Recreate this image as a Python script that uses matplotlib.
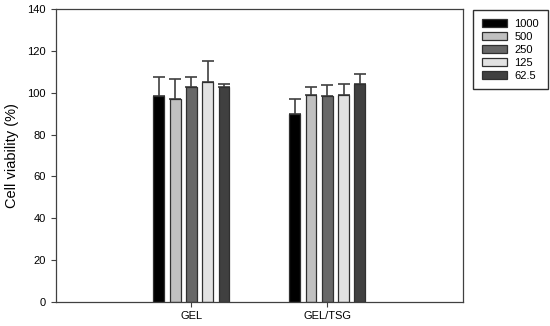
import numpy as np
import matplotlib.pyplot as plt

plt.rcParams['font.family'] = ['Liberation Sans', 'DejaVu Sans']

# data
groups = ['GEL', 'GEL/TSG']
concentrations = ['1000', '500', '250', '125', '62.5']
means = [
    [98.6, 90.0],    # 1000
    [96.8, 99.1],    # 500
    [102.9, 98.3],   # 250
    [105.1, 98.8],   # 125
    [102.9, 104.0],  # 62.5
]
errors = [
    [9.0, 7.0],
    [9.6, 3.8],
    [4.6, 5.2],
    [10.0, 5.2],
    [1.3, 5.0],
]
colors = ['#000000', '#c0c0c0', '#686868', '#e2e2e2', '#404040']

fig = plt.figure(figsize=(5.5, 3.26), dpi=100)
ax = fig.add_axes([0.101, 0.0745, 0.741, 0.8975])

x = np.arange(len(groups))
width = 0.08
step = 0.12
for i, lab in enumerate(concentrations):
    pos = x + (i - 2) * step
    ax.bar(pos, means[i], width, color=colors[i], edgecolor='#303030',
           linewidth=0.9, label=lab, zorder=2)
    ax.errorbar(pos, means[i], yerr=[np.zeros(len(groups)), errors[i]],
                fmt='none', ecolor='#404040', elinewidth=1.2, capsize=4,
                capthick=1.2, zorder=1)

ax.set_xlim(-1, 2)
ax.set_ylim(0, 140)
ax.set_yticks(range(0, 141, 20))
ax.set_xticks(x)
ax.set_xticklabels(groups)
ax.tick_params(labelsize=8, direction='out', length=3.5, width=0.8,
               colors='#404040', labelcolor='black')
ax.set_ylabel('Cell viability (%)', fontsize=10.5, labelpad=6)
for s in ax.spines.values():
    s.set_color('#404040')
    s.set_linewidth(0.9)

fig.legend(loc='upper left', bbox_to_anchor=(0.86, 0.969), fontsize=8,
           fancybox=False, edgecolor='#303030', framealpha=1,
           handlelength=2.3, handleheight=0.7, labelspacing=0.26,
           borderpad=0.8, handletextpad=0.6, borderaxespad=0)

fig.savefig('out.png', dpi=100)
